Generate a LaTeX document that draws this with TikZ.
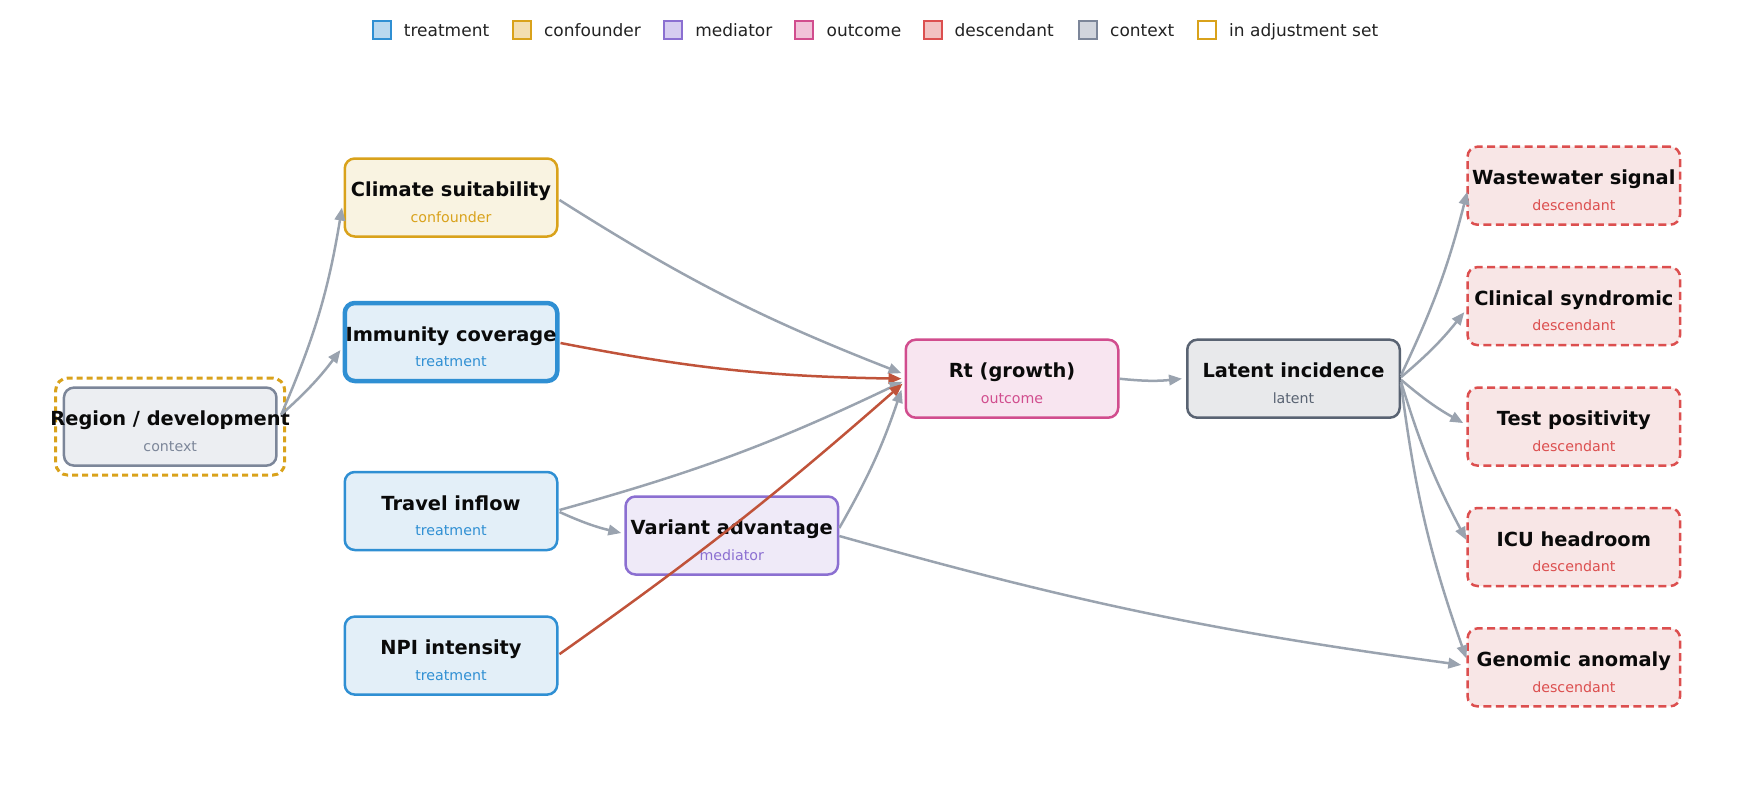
\documentclass[tikz,border=0pt]{standalone}
\usepackage{fontspec}
\setmainfont{DejaVu Sans}
\usetikzlibrary{arrows.meta,calc}
\definecolor{treatC}{HTML}{2F8FD3}
\definecolor{treatF}{HTML}{E3EFF8}
\definecolor{treatL}{HTML}{B9D8EF}
\definecolor{confC}{HTML}{D9A21B}
\definecolor{confF}{HTML}{F9F3E1}
\definecolor{confL}{HTML}{F3DEB1}
\definecolor{medC}{HTML}{8B6FD1}
\definecolor{medF}{HTML}{EFEAF8}
\definecolor{medL}{HTML}{D6CCF0}
\definecolor{outC}{HTML}{D14D8E}
\definecolor{outF}{HTML}{F8E5F0}
\definecolor{outL}{HTML}{F1C2D9}
\definecolor{descC}{HTML}{DC4F4F}
\definecolor{descF}{HTML}{F8E6E6}
\definecolor{descL}{HTML}{F2C1C1}
\definecolor{ctxC}{HTML}{7C8699}
\definecolor{ctxF}{HTML}{ECEEF2}
\definecolor{ctxL}{HTML}{D1D5DD}
\definecolor{latC}{HTML}{596372}
\definecolor{latF}{HTML}{E8E9EB}
\definecolor{edgeC}{HTML}{9AA3AF}
\definecolor{redC}{HTML}{C0533A}
\definecolor{titleC}{HTML}{0A0A0A}
\definecolor{legT}{HTML}{222222}
\newcommand\dagbox[7]{%
  \node[#4] (#1) at (#2,#3) {};
  \node[ttl] (#1-t) at ([yshift=0.8pt]#1.center) {#5};
  \node[subt, text=#7] (#1-s) at ([yshift=-24.8pt]#1.center) {#6};
}
\begin{document}
\begin{tikzpicture}[x=1pt,y=-1pt,
  box/.style={draw, rounded corners=10pt, minimum width=212.5pt, minimum height=78pt, inner sep=0pt, line width=2.5pt},
  treat/.style={box, draw=treatC, fill=treatF},
  conf/.style={box, draw=confC, fill=confF},
  med/.style={box, draw=medC, fill=medF},
  outc/.style={box, draw=outC, fill=outF},
  desc/.style={box, draw=descC, fill=descF, dash pattern=on 8pt off 4.5pt},
  ctx/.style={box, draw=ctxC, fill=ctxF},
  lat/.style={box, draw=latC, fill=latF},
  adj/.style={draw=confC, rounded corners=12pt, minimum width=229pt, minimum height=97pt, inner sep=0pt, line width=3pt, dash pattern=on 6pt off 4pt},
  ttl/.style={font=\fontsize{19.4}{23}\selectfont\bfseries, text=titleC, anchor=base, inner sep=0pt},
  subt/.style={font=\fontsize{14.2}{17}\selectfont, anchor=base, inner sep=0pt},
  edge/.style={draw=edgeC, line width=2.5pt, -{Triangle[length=13pt,width=10.5pt]}},
  redge/.style={edge, draw=redC},
  legsq/.style={minimum size=18pt, inner sep=0pt, line width=2pt},
  legtxt/.style={font=\fontsize{17}{20}\selectfont, text=legT, anchor=base west, inner sep=0pt}
]
\useasboundingbox (0,0) rectangle (1744,792);
% legend
\node[legsq, draw=treatC, fill=treatL] (lg1) at (381.5,30) {};
\node[legtxt] (lg1t) at (403.7,36.5) {treatment};
\node[legsq, draw=confC, fill=confL] (lg2) at (521.6,30) {};
\node[legtxt] (lg2t) at (543.9,36.5) {confounder};
\node[legsq, draw=medC, fill=medL] (lg3) at (672.9,30) {};
\node[legtxt] (lg3t) at (695.1,36.5) {mediator};
\node[legsq, draw=outC, fill=outL] (lg4) at (804.1,30) {};
\node[legtxt] (lg4t) at (826.4,36.5) {outcome};
\node[legsq, draw=descC, fill=descL] (lg5) at (933.1,30) {};
\node[legtxt] (lg5t) at (954.3,36.5) {descendant};
\node[legsq, draw=ctxC, fill=ctxL] (lg6) at (1087.7,30) {};
\node[legtxt] (lg6t) at (1110,36.5) {context};
\node[legsq, draw=confC, fill=white] (lg7) at (1206.7,30) {};
\node[legtxt] (lg7t) at (1229,36.5) {in adjustment set};
% nodes
\node[adj] (region-adj) at (170.2,426.6) {};
\dagbox{region}{170.2}{426.6}{ctx}{Region / development}{context}{ctxC}
\dagbox{climate}{451}{197.5}{conf}{Climate suitability}{confounder}{confC}
\dagbox{immunity}{451}{342}{treat, line width=4.5pt}{Immunity coverage}{treatment}{treatC}
\dagbox{travel}{451}{511}{treat}{Travel inflow}{treatment}{treatC}
\dagbox{npi}{451}{655.6}{treat}{NPI intensity}{treatment}{treatC}
\dagbox{variant}{731.8}{535.5}{med}{Variant advantage}{mediator}{medC}
\dagbox{rt}{1012}{378.7}{outc}{Rt (growth)}{outcome}{outC}
\dagbox{latent}{1293.5}{378.7}{lat}{Latent incidence}{latent}{latC}
\dagbox{wastewater}{1573.8}{185.7}{desc}{Wastewater signal}{descendant}{descC}
\dagbox{clinical}{1573.8}{306.1}{desc}{Clinical syndromic}{descendant}{descC}
\dagbox{test}{1573.8}{426.6}{desc}{Test positivity}{descendant}{descC}
\dagbox{icu}{1573.8}{547}{desc}{ICU headroom}{descendant}{descC}
\dagbox{genomic}{1573.8}{667.4}{desc}{Genomic anomaly}{descendant}{descC}
% edges
\draw[edge] ([xshift=3.5pt,yshift=12pt]region.east) to[bend right=7] ([xshift=-1.5pt,yshift=-10pt]climate.west);
\draw[edge] ([xshift=3.5pt,yshift=12pt]region.east) to[bend right=5.5] ([xshift=-2pt,yshift=-8pt]immunity.west);
\draw[edge] ([xshift=1pt,yshift=-2.5pt]climate.east) to[bend right=5.5] ([xshift=-3pt,yshift=5.5pt]rt.west);
\draw[redge] ([xshift=1pt,yshift=-1pt]immunity.east) to[bend right=5] ([xshift=-3pt]rt.west);
\draw[edge] ([xshift=1pt,yshift=1pt]travel.east) to[bend right=5] ([xshift=-2pt,yshift=-3pt]rt.west);
\draw[edge] ([xshift=1pt,yshift=-1pt]travel.east) to[bend right=5.5] ([xshift=-3pt,yshift=2.5pt]variant.west);
\draw[redge] ([xshift=1pt,yshift=1.5pt]npi.east) to[bend right=3] ([xshift=-2pt,yshift=-5pt]rt.west);
\draw[edge] ([yshift=7.5pt]variant.east) to[bend right=5.5] ([xshift=-3pt,yshift=-11pt]rt.west);
\draw[edge] ([yshift=-0.5pt]variant.east) to[bend right=4] ([xshift=-5pt,yshift=2.5pt]genomic.west);
\draw[edge] (rt.east) to[bend right=6] ([xshift=-4pt]latent.west);
\draw[edge] ([yshift=3.5pt]latent.east) to[bend right=5.5] ([xshift=1pt,yshift=-6pt]wastewater.west);
\draw[edge] ([yshift=1.5pt]latent.east) to[bend right=5.5] ([xshift=-2pt,yshift=-6pt]clinical.west);
\draw[edge] ([yshift=-1pt]latent.east) to[bend right=5.5] ([xshift=-3pt,yshift=3.5pt]test.west);
\draw[edge] ([yshift=-3pt]latent.east) to[bend right=5.5] ([yshift=7pt]icu.west);
\draw[edge] ([yshift=-5pt]latent.east) to[bend right=6] ([yshift=9pt]genomic.west);
\end{tikzpicture}
\end{document}
